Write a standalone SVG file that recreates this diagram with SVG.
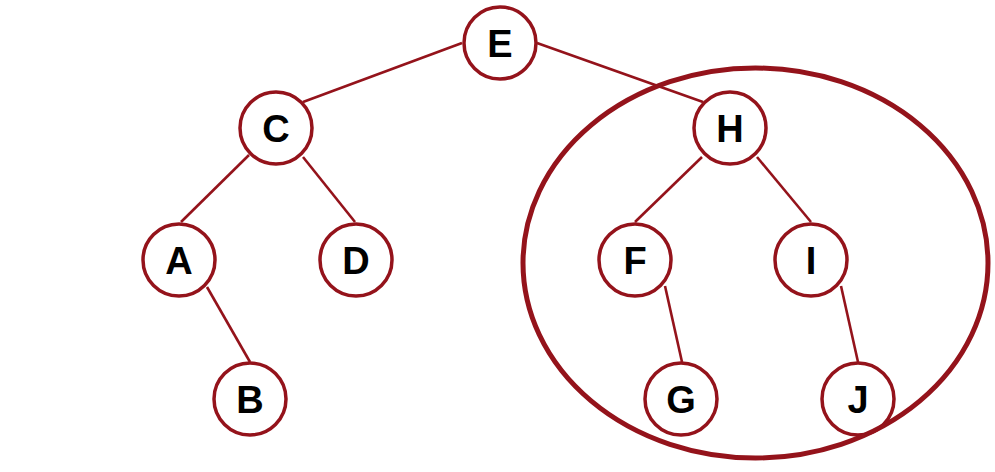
<svg xmlns="http://www.w3.org/2000/svg" width="995" height="472" viewBox="0 0 995 472">
<style>
.node circle{fill:#fff;stroke:#94131b;stroke-width:3.5}
.node text{font-family:"Liberation Sans",Arial,sans-serif;font-weight:bold;font-size:38px;fill:#000;text-anchor:middle}
.edges line{stroke:#94131b;stroke-width:2.6}
</style>
<rect width="995" height="472" fill="#fff"/>
<g id="edges" class="edges">
<line x1="462" y1="43" x2="303" y2="102"/>
<line x1="537" y1="43" x2="703" y2="102"/>
<line x1="249" y1="155" x2="181" y2="222"/>
<line x1="303" y1="157" x2="355" y2="222"/>
<line x1="702" y1="157" x2="635" y2="222"/>
<line x1="757" y1="157" x2="811" y2="222"/>
<line x1="207" y1="287" x2="250" y2="362"/>
<line x1="665" y1="286" x2="682" y2="362"/>
<line x1="841" y1="286" x2="858" y2="362"/>
</g>
<g id="E" class="node"><circle cx="500" cy="43" r="36"/><text x="500" y="57">E</text></g>
<g id="C" class="node"><circle cx="276" cy="128" r="36"/><text x="276" y="142">C</text></g>
<g id="H" class="node"><circle cx="730" cy="128" r="36"/><text x="730" y="142">H</text></g>
<g id="A" class="node"><circle cx="179" cy="260" r="36"/><text x="179" y="274">A</text></g>
<g id="D" class="node"><circle cx="356" cy="260" r="36"/><text x="356" y="274">D</text></g>
<g id="F" class="node"><circle cx="635" cy="260" r="36"/><text x="635" y="274">F</text></g>
<g id="I" class="node"><circle cx="811" cy="260" r="36"/><text x="811" y="274">I</text></g>
<g id="B" class="node"><circle cx="250" cy="399" r="36"/><text x="250" y="413">B</text></g>
<g id="G" class="node"><circle cx="681" cy="399" r="36"/><text x="681" y="413">G</text></g>
<g id="J" class="node"><circle cx="858" cy="399" r="36"/><text x="858" y="413">J</text></g>
<ellipse id="subtree" cx="755.5" cy="263" rx="232.5" ry="195" fill="none" stroke="#94131b" stroke-width="5"/>
</svg>
